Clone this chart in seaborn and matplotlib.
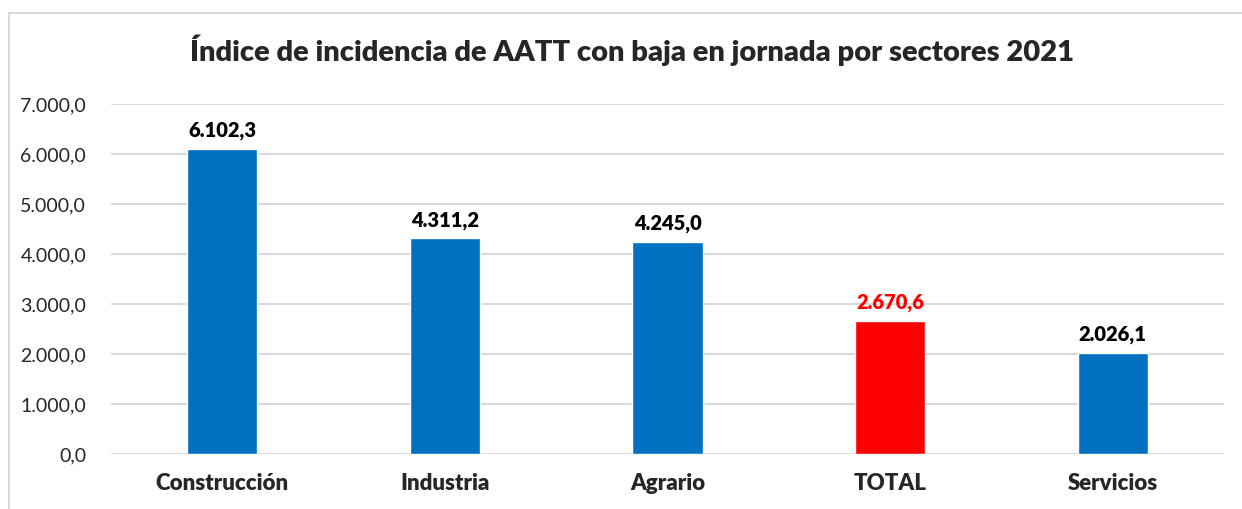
import matplotlib
matplotlib.use('Agg')
import matplotlib.pyplot as plt
import matplotlib.lines as mlines
import matplotlib.ticker as mticker
import pandas as pd
import seaborn as sns

# data
sectores = ["Construcción", "Industria", "Agrario", "TOTAL", "Servicios"]
indices = [6102.3, 4311.2, 4245.0, 2670.6, 2026.1]
colores = ["#0070c0", "#0070c0", "#0070c0", "#ff0000", "#0070c0"]
etiqueta_color = ["black", "black", "black", "#ff0000", "black"]


def fmt_es(v, pos=None):
    # 7000.0 -> "7.000,0"
    s = f"{v:,.1f}"
    return s.replace(",", "X").replace(".", ",").replace("X", ".")


sns.set_style("white")
plt.rcParams['font.family'] = ['Lato', 'DejaVu Sans']

df = pd.DataFrame({"sector": sectores, "indice": indices})

fig = plt.figure(figsize=(12.42, 5.09), dpi=100)
ax = fig.add_axes([0.0894, 0.108, 0.8961, 0.6876])

sns.barplot(data=df, x="sector", y="indice", hue="sector", palette=colores,
            width=0.315, saturation=1, legend=False, ax=ax, zorder=3)

ax.set_ylim(0, 7000)
ax.set_xlim(-0.5, 4.5)
ax.yaxis.set_major_locator(mticker.MultipleLocator(1000))
ax.yaxis.set_major_formatter(mticker.FuncFormatter(fmt_es))
ax.grid(axis="y", color="#d9d9d9", linewidth=1.5, zorder=0)
ax.set_axisbelow(True)
for sp in ax.spines.values():
    sp.set_visible(False)
ax.set_xlabel("")
ax.set_ylabel("")
ax.tick_params(axis="y", labelsize=14, length=0, pad=18)
ax.tick_params(axis="x", labelsize=16, length=0, pad=14)
for lbl in ax.get_xticklabels():
    lbl.set_fontweight("heavy")

for i, (v, c) in enumerate(zip(indices, etiqueta_color)):
    ax.text(i, v + 170, fmt_es(v), ha="center", va="bottom",
            fontsize=14.5, fontweight="heavy", color=c)

fig.text(0.509, 0.902, "Índice de incidencia de AATT con baja en jornada por sectores 2021",
         ha="center", va="center", fontsize=21, fontweight="heavy")

# chart frame (top and left edges visible)
y_top = 1 - 12.5 / 509
x_left = 9 / 1242
fig.add_artist(mlines.Line2D([x_left, 1], [y_top, y_top], color="#d9d9d9", lw=1.5))
fig.add_artist(mlines.Line2D([x_left, x_left], [0, y_top], color="#d9d9d9", lw=1.5))

fig.savefig("out.png", dpi=100)
